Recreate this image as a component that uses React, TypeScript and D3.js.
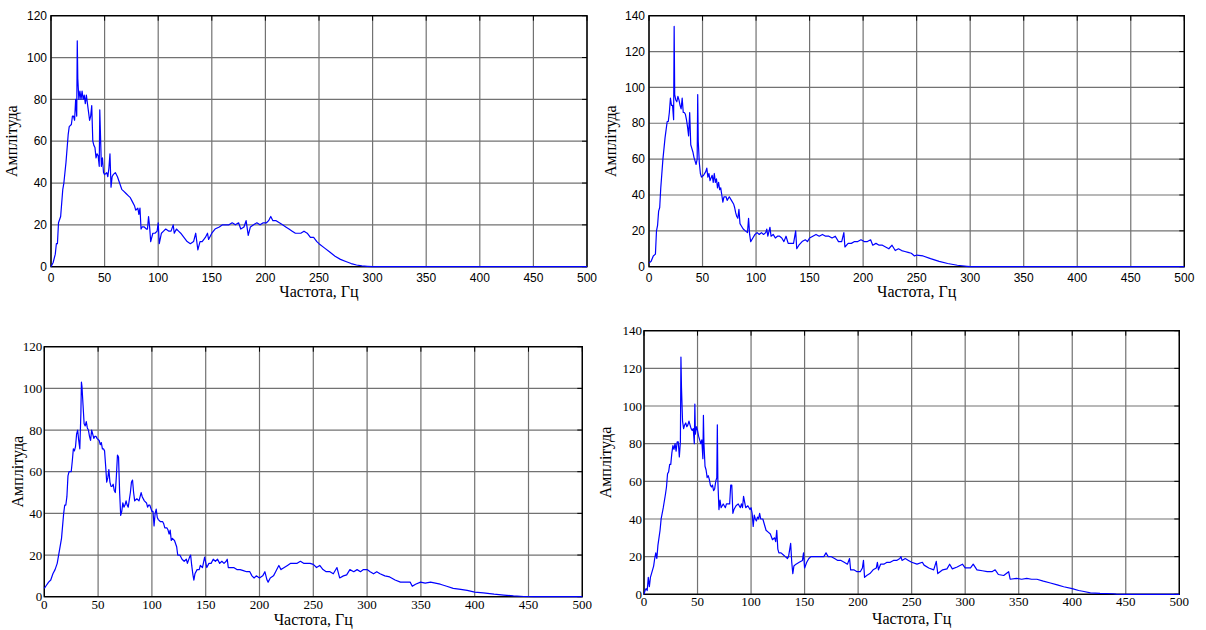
import React, { useEffect, useRef } from 'react';
import * as d3 from 'd3';

// tick values
const freqTicks = [0, 50, 100, 150, 200, 250, 300, 350, 400, 450, 500];
const ampTicks120 = [0, 20, 40, 60, 80, 100, 120];
const ampTicks140 = [0, 20, 40, 60, 80, 100, 120, 140];

const xTitle = 'Частота, Гц';
const yTitle = 'Амплітуда';

// [frequency Hz, amplitude]
const spectrumTL: [number, number][] = [
  [0, 0], [2, 2], [4, 6], [5, 11], [6, 11], [7, 21], [9, 24], [11, 37], [12, 40], [14, 50], [16, 63],
  [17, 67], [19, 68], [20, 72], [21, 72], [22, 70], [23, 80], [24, 72], [24.5, 108], [25, 90], [26, 80],
  [27, 84], [28, 80], [29, 84], [30, 80], [31, 82], [32, 78], [33, 82], [34, 78], [35, 74], [36, 70],
  [37, 72], [38, 77], [39, 60], [40, 58], [41, 57], [42, 52], [43, 54], [44, 53], [45, 48], [45.5, 75],
  [46, 66], [47, 48], [48, 52], [49, 45], [50, 44], [52, 45], [53, 43], [54, 47], [55, 54], [56, 38],
  [57, 43], [58, 44], [60, 45], [62, 43], [64, 40], [66, 37], [68, 36], [70, 35], [72, 34], [74, 33],
  [76, 31], [78, 29], [79, 27], [81, 28], [82, 25], [83, 28], [84, 18], [85, 19], [87, 19], [89, 18],
  [90, 18], [91, 24], [92, 19], [93, 12], [95, 16], [97, 16], [99, 17], [100, 21], [101, 11], [103, 16],
  [105, 17], [107, 18], [110, 17], [112, 17], [114, 20], [115, 16], [117, 18], [119, 17], [121, 16],
  [124, 14], [127, 12], [130, 11], [133, 12], [135, 16], [137, 8], [139, 12], [141, 12], [144, 14],
  [146, 16], [147, 13], [150, 16], [153, 18], [157, 19], [160, 20], [163, 20], [166, 20], [169, 21],
  [172, 20], [175, 21], [177, 18], [180, 19], [182, 22], [184, 15], [186, 19], [189, 20], [192, 21],
  [195, 20], [198, 21], [201, 21], [203, 22], [205, 24], [207, 22], [210, 22], [213, 21], [216, 20],
  [219, 19], [222, 18], [225, 17], [228, 16], [230, 16], [233, 16], [236, 17], [239, 16], [242, 14],
  [245, 14], [248, 12], [250, 11], [255, 9], [260, 7], [265, 5], [270, 3.5], [275, 2.5], [280, 1.5],
  [285, 0.8], [290, 0.4], [295, 0.2], [300, 0], [500, 0],
];

const spectrumTR: [number, number][] = [
  [0, 2], [2, 3], [4, 6], [6, 7], [7, 20], [8, 23], [9, 31], [10, 33], [11, 44], [13, 60], [15, 72],
  [17, 81], [18, 81], [19, 86], [20, 94], [21, 90], [22, 90], [23, 82], [23.5, 134], [24, 96], [25, 93],
  [26, 92], [27, 95], [28, 93], [29, 90], [30, 88], [31, 94], [32, 86], [33, 86], [34, 85], [35, 82],
  [36, 78], [37, 73], [38, 86], [39, 68], [40, 66], [41, 64], [42, 61], [43, 59], [44, 57], [45, 60],
  [45.5, 96], [46, 70], [47, 58], [48, 52], [49, 50], [51, 51], [53, 53], [54, 55], [55, 50], [56, 52],
  [57, 48], [59, 51], [60, 47], [61, 52], [62, 47], [63, 49], [64, 44], [65, 47], [66, 43], [67, 44],
  [68, 40], [69, 36], [70, 39], [72, 39], [73, 37], [75, 39], [77, 37], [79, 35], [80, 33], [81, 30],
  [82, 28], [83, 27], [84, 32], [85, 24], [86, 23], [88, 21], [90, 20], [92, 19], [93, 27], [94, 18],
  [95, 14], [97, 16], [99, 18], [101, 19], [103, 18], [105, 19], [107, 18], [109, 19], [110, 21],
  [111, 17], [113, 22], [114, 17], [116, 18], [118, 16], [120, 17], [122, 17], [124, 16], [126, 14],
  [128, 17], [130, 13], [133, 13], [135, 13], [137, 20], [138, 10], [140, 12], [143, 14], [146, 15],
  [148, 14], [150, 16], [153, 17], [156, 18], [159, 17], [162, 18], [165, 17], [168, 17], [171, 16],
  [174, 17], [177, 14], [180, 14], [182, 19], [183, 11], [186, 13], [189, 13], [192, 14], [195, 14],
  [198, 15], [201, 14], [204, 14], [207, 15], [209, 12], [212, 13], [215, 12], [218, 12], [221, 11],
  [224, 10], [227, 12], [230, 9], [233, 10], [236, 9], [239, 8.5], [242, 8], [245, 7.5], [248, 6],
  [250, 6.5], [256, 6], [263, 4.5], [271, 3], [279, 1.8], [288, 0.8], [297, 0.2], [300, 0], [500, 0],
];

const spectrumBL: [number, number][] = [
  [0, 4], [2, 5.5], [4, 7], [6, 8], [8, 11], [10, 13], [12, 16], [14, 22], [16, 28], [18, 40], [19, 44],
  [20, 44], [21, 48], [22, 58], [23, 60], [25, 60], [26, 65], [27, 71], [28, 70], [29, 72], [30, 78],
  [31, 80], [32, 75], [33, 71], [34, 88], [34.5, 103], [35, 101], [36, 92], [37, 83], [38, 82], [39, 84],
  [40, 81], [41, 80], [42, 77], [43, 75], [44, 80], [45, 78], [46, 76], [47, 77], [48, 77], [49, 76],
  [51, 75], [52, 73], [53, 74], [54, 71], [55, 71], [56, 70], [57, 63], [58, 55], [59, 57], [60, 61],
  [61, 55], [62, 53], [63, 53], [64, 54], [65, 51], [66, 50], [67, 58], [68, 68], [69, 67], [70, 50],
  [71, 39], [72, 41], [73, 45], [74, 43], [75, 44], [76, 46], [77, 44], [78, 43], [80, 50], [81, 55],
  [82, 56], [83, 50], [84, 46], [86, 47], [88, 46], [90, 50], [91, 48], [93, 46], [95, 45], [96, 43],
  [97, 44], [98, 44], [100, 41], [101, 41], [102, 34], [103, 40], [104, 42], [105, 38], [106, 37],
  [108, 36], [110, 36], [111, 35], [112, 33], [114, 33], [115, 32], [116, 30], [117, 32], [118, 27],
  [119, 28], [121, 27], [123, 24], [124, 20], [126, 20], [128, 18], [130, 17], [132, 18], [133, 16],
  [135, 19], [136, 20], [137, 15], [138, 11], [139, 8], [140, 11], [142, 13], [144, 13], [145, 15],
  [147, 14], [149, 19], [151, 14], [153, 16], [155, 16], [157, 18], [159, 17], [161, 18], [163, 16],
  [165, 17], [167, 16], [169, 17], [170, 18], [171, 14], [173, 14], [176, 14], [179, 13], [182, 13],
  [185, 12.5], [188, 12], [191, 12], [193, 10], [195, 9], [197, 10], [200, 9], [203, 10], [205, 12],
  [207, 8], [208, 7], [210, 9], [213, 10], [215, 12], [217, 14], [218, 15], [220, 13], [223, 14],
  [226, 15], [229, 16], [232, 16], [235, 16], [238, 17], [241, 16], [244, 16], [247, 16], [250, 15.5],
  [253, 14], [256, 15], [259, 13], [262, 12], [265.5, 12], [268.6, 11], [272, 14], [274.5, 9], [278, 10],
  [281, 10.5], [284, 13], [287.6, 12], [290.7, 13], [293.8, 12], [296.6, 13], [300, 13], [302.8, 12],
  [306, 11], [309, 12], [312, 11], [316.5, 10], [321, 9.5], [326, 8], [331, 7], [335.6, 7], [340, 7],
  [342, 5], [345, 6], [349.7, 7], [354, 6.5], [359, 7], [363.4, 6.5], [368, 6], [374, 5], [380, 4],
  [387, 3.5], [393, 3], [400, 2.2], [408, 1.8], [418, 1.2], [427, 0.8], [436, 0.4], [445.7, 0.1],
  [455, 0], [500, 0],
];

const spectrumBR: [number, number][] = [
  [0, 0], [1, 2], [2, 3], [3, 2], [4, 9], [5, 4], [6, 9], [7, 11], [9, 15], [10, 19], [11, 22], [12, 19],
  [13, 26], [15, 34], [16, 40], [18, 46], [20, 53], [21, 57], [22, 64], [23, 65], [24, 69], [25, 69],
  [26, 75], [27, 79], [28, 77], [29, 80], [30, 76], [31, 81], [32, 81], [33, 73], [34, 81], [34.5, 126],
  [35, 110], [36, 92], [37, 88], [38, 90], [39, 91], [40, 89], [41, 90], [42, 92], [43, 90], [44, 88],
  [45, 87], [46, 88], [47, 80], [47.5, 101], [48, 85], [49, 89], [50, 87], [51, 84], [52, 82], [53, 80],
  [54, 82], [55, 72], [55.5, 95], [56, 80], [57, 68], [58, 66], [59, 62], [60, 63], [61, 61], [62, 58],
  [63, 57], [64, 58], [65, 55], [66, 56], [67, 60], [68, 62], [68.5, 90], [69, 60], [70, 45], [71, 50],
  [72, 46], [74, 48], [76, 46], [77, 48], [78, 48], [80, 48], [81, 58], [82, 58], [83, 43], [84, 45],
  [86, 47], [88, 48], [90, 46], [91, 48], [92, 46], [93, 52], [94, 49], [95, 46], [97, 47], [99, 45],
  [100, 46], [101, 43], [102, 36], [103, 42], [104, 40], [105, 39], [106, 41], [107, 40], [108, 43],
  [109, 40], [111, 40], [112, 38], [114, 34], [116, 33], [118, 32], [120, 29], [122, 30], [123, 28],
  [124, 34], [125, 24], [126, 22], [128, 22], [130, 21], [132, 20], [134, 19], [135, 20], [137, 27],
  [138, 17], [139, 11], [140, 15], [142, 16], [145, 17], [148, 18], [149, 22], [150, 14], [152, 17],
  [154, 19], [156, 20], [159, 20], [162, 20], [165, 20], [168, 20], [170, 22], [172, 20], [175, 20],
  [178, 19], [181, 18], [184, 18], [187, 17], [190, 16], [192, 19], [193, 13], [196, 13], [199, 12],
  [202, 12], [204, 14], [205, 18], [206, 9], [208, 10], [211, 11], [214, 13], [217, 14], [218, 17],
  [219, 13], [221, 16], [224, 16], [227, 17], [230, 17], [233, 18], [236, 18], [239, 19], [240, 20],
  [241, 18], [244, 19], [247, 18], [250, 17], [255, 16], [260, 17], [261.6, 15.5], [266, 14],
  [270.6, 13], [273, 17.5], [274.4, 11], [279, 13], [283, 13.5], [285.5, 16], [288, 13.5], [292.5, 14.5],
  [297.4, 16], [300, 14], [305, 14], [307.5, 16], [311, 13], [316, 12.5], [320.6, 12], [325, 12],
  [328, 13], [331, 10.5], [336, 10], [340.6, 12], [342, 8], [348, 8.5], [352.8, 8], [357.5, 8.5],
  [362, 8], [367, 8], [373, 7], [379.6, 6], [386, 5], [392, 4], [400, 3], [406, 2], [411, 1.5],
  [417, 0.8], [426, 0.5], [438, 0.3], [441, 0.1], [450, 0], [500, 0],
];

const panels = [
  { data: spectrumTL, yMax: 120, yTicks: ampTicks120, left: 51, top: 15.7, right: 587, bottom: 266.7,
    font: 'Liberation Sans, Arial, sans-serif', fontSize: 12, xLabDy: 15, yLabDx: 4, xTitleDy: 30.5, yTitleDx: 34 },
  { data: spectrumTR, yMax: 140, yTicks: ampTicks140, left: 649, top: 15.7, right: 1184.3, bottom: 266.7,
    font: 'Liberation Sans, Arial, sans-serif', fontSize: 12, xLabDy: 15, yLabDx: 4, xTitleDy: 30.5, yTitleDx: 33 },
  { data: spectrumBL, yMax: 120, yTicks: ampTicks120, left: 44.3, top: 346.7, right: 582.3, bottom: 596.7,
    font: 'Liberation Serif, Times New Roman, serif', fontSize: 13, xLabDy: 12, yLabDx: 2, xTitleDy: 28, yTitleDx: 21.6 },
  { data: spectrumBR, yMax: 140, yTicks: ampTicks140, left: 644, top: 330.7, right: 1179.3, bottom: 594.3,
    font: 'Liberation Serif, Times New Roman, serif', fontSize: 13, xLabDy: 12, yLabDx: 2, xTitleDy: 30, yTitleDx: 32.7 },
];

export default function App() {
  const ref = useRef<SVGSVGElement>(null);

  useEffect(() => {
    const svg = d3.select(ref.current);
    svg.selectAll('*').remove();

    panels.forEach((p) => {
      const w = p.right - p.left;
      const h = p.bottom - p.top;
      const x = d3.scaleLinear().domain([0, 500]).range([0, w]);
      const y = d3.scaleLinear().domain([0, p.yMax]).range([h, 0]);

      const g = svg.append('g').attr('transform', 'translate(' + p.left + ',' + p.top + ')');

      // grid
      g.selectAll('line.vgrid').data(freqTicks).enter().append('line')
        .attr('class', 'vgrid')
        .attr('x1', (d) => x(d)).attr('x2', (d) => x(d))
        .attr('y1', 0).attr('y2', h)
        .attr('stroke', '#727272').attr('stroke-width', 1.2);
      g.selectAll('line.hgrid').data(p.yTicks).enter().append('line')
        .attr('class', 'hgrid')
        .attr('x1', 0).attr('x2', w)
        .attr('y1', (d) => y(d)).attr('y2', (d) => y(d))
        .attr('stroke', '#727272').attr('stroke-width', 1.2);

      // inner ticks on the top and right edges
      g.selectAll('line.xtick').data(freqTicks).enter().append('line')
        .attr('class', 'xtick')
        .attr('x1', (d) => x(d)).attr('x2', (d) => x(d))
        .attr('y1', 0).attr('y2', 5)
        .attr('stroke', '#000').attr('stroke-width', 1);
      g.selectAll('line.ytick').data(p.yTicks).enter().append('line')
        .attr('class', 'ytick')
        .attr('x1', w - 5).attr('x2', w)
        .attr('y1', (d) => y(d)).attr('y2', (d) => y(d))
        .attr('stroke', '#000').attr('stroke-width', 1);

      // box
      g.append('rect')
        .attr('width', w).attr('height', h)
        .attr('fill', 'none').attr('stroke', '#000').attr('stroke-width', 1.4);

      // spectrum
      const line = d3.line<[number, number]>()
        .x((d) => x(d[0]))
        .y((d) => y(d[1]));
      g.append('path')
        .attr('d', line(p.data))
        .attr('fill', 'none')
        .attr('stroke', '#0000ff')
        .attr('stroke-width', 1.2)
        .attr('stroke-linejoin', 'round');

      // tick labels
      g.selectAll('text.xlab').data(freqTicks).enter().append('text')
        .attr('class', 'xlab')
        .attr('x', (d) => x(d)).attr('y', h + p.xLabDy)
        .attr('text-anchor', 'middle')
        .style('font-family', p.font).style('font-size', p.fontSize + 'px')
        .text((d) => d);
      g.selectAll('text.ylab').data(p.yTicks).enter().append('text')
        .attr('class', 'ylab')
        .attr('x', -p.yLabDx).attr('y', (d) => y(d)).attr('dy', '0.35em')
        .attr('text-anchor', 'end')
        .style('font-family', p.font).style('font-size', p.fontSize + 'px')
        .text((d) => d);

      // axis titles
      g.append('text')
        .attr('x', w / 2).attr('y', h + p.xTitleDy)
        .attr('text-anchor', 'middle')
        .style('font-family', 'Liberation Serif, Times New Roman, serif').style('font-size', '16px')
        .text(xTitle);
      g.append('text')
        .attr('transform', 'translate(' + (-p.yTitleDx) + ',' + h / 2 + ') rotate(-90)')
        .attr('text-anchor', 'middle')
        .style('font-family', 'Liberation Serif, Times New Roman, serif').style('font-size', '16px')
        .text(yTitle);
    });
  }, []);

  return (
    <svg ref={ref} width={1206} height={630}
      style={{ position: 'absolute', left: 0, top: 0, background: '#fff' }} />
  );
}
